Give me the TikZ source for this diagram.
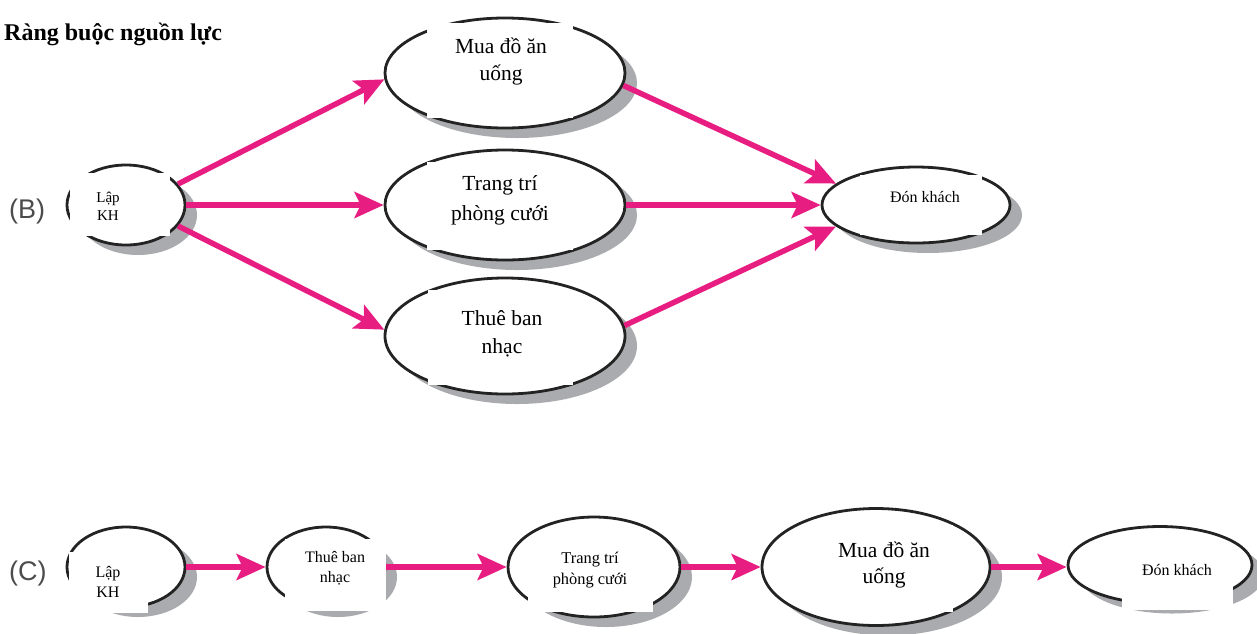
\documentclass[tikz,border=0pt]{standalone}
\usepackage{fontspec}
\setmainfont{Liberation Serif}
\setsansfont{Liberation Sans}
\usetikzlibrary{shapes.geometric,arrows.meta,shadows}
\definecolor{arrowpink}{RGB}{231,29,130}
\definecolor{shadowgray}{RGB}{170,171,174}
\definecolor{rim}{RGB}{35,35,35}

\begin{document}
\begin{tikzpicture}[x=1pt,y=-1pt,
  task/.style={ellipse, draw=rim, line width=2.8pt, fill=white, inner sep=0pt,
    drop shadow={shadow xshift=12pt, shadow yshift=-10pt, fill=shadowgray, opacity=1}},
  patch/.style={rectangle, fill=white, draw=none, inner sep=0pt},
  label/.style={align=center, inner sep=0pt},
  flow/.style={draw=arrowpink, line width=5.5pt,
    -{Stealth[length=29pt, width=26pt, inset=6pt]}},
  panel/.style={font=\sffamily\fontsize{27}{27}\selectfont, text=black!70, anchor=west, inner sep=0pt}
]
\useasboundingbox (0,0) rectangle (1257,633);

% heading and panel letters
\node[anchor=base west, inner sep=0pt, font=\bfseries\fontsize{24}{24}\selectfont] (title) at (4,40) {Ràng buộc nguồn lực};
\node[panel] (labB) at (9,212) {(B)};
\node[panel] (labC) at (9,573) {(C)};

% ---------- (B): parallel activities ----------
\node[task, minimum width=118pt, minimum height=80pt] (lapB)   at (126,205) {};
\node[task, minimum width=240pt, minimum height=110pt] (muaB)  at (505,73)  {};
\node[task, minimum width=240pt, minimum height=110pt] (trangB) at (505,205) {};
\node[task, minimum width=240pt, minimum height=116pt] (thueB) at (505,336) {};
\node[task, minimum width=188pt, minimum height=76pt]  (donB)  at (916,205) {};

% white text frames over the ellipses
\node[patch, minimum width=100pt, minimum height=63pt] (lapBp)   at (120,204.5) {};
\node[patch, minimum width=146pt, minimum height=95pt] (muaBp)   at (500,70.5)  {};
\node[patch, minimum width=146pt, minimum height=88pt] (trangBp) at (500,206)   {};
\node[patch, minimum width=145pt, minimum height=95pt] (thueBp)  at (500.5,337.5) {};
\node[patch, minimum width=122pt, minimum height=60pt] (donBp)   at (921,205)   {};

\node[label, font=\fontsize{15}{18}\selectfont]   (lapBt)   at (108,206) {Lập\\KH};
\node[label, font=\fontsize{21.5}{27}\selectfont] (muaBt)   at (501,62)  {Mua đồ ăn\\uống};
\node[label, font=\fontsize{21.5}{30}\selectfont] (trangBt) at (500,200) {Trang trí\\phòng cưới};
\node[label, font=\fontsize{21.5}{28}\selectfont] (thueBt)  at (502,334) {Thuê ban\\nhạc};
\node[label, font=\fontsize{16}{19}\selectfont]   (donBt)   at (925,197) {Đón khách};

\draw[flow] (lapB.22)   -- (muaB.183);
\draw[flow] (lapB.east) -- (trangB.west);
\draw[flow] (lapB.-22)  -- (thueB.177);
\draw[flow] (muaB.-6)   -- (donB.165);
\draw[flow] (trangB.east) -- (donB.west);
\draw[flow] (thueB.5)   -- (donB.195);

% ---------- (C): one activity after another ----------
\node[task, minimum width=118pt, minimum height=80pt]  (lapC)   at (126,567) {};
\node[task, minimum width=118pt, minimum height=80pt]  (thueC)  at (326,567) {};
\node[task, minimum width=172pt, minimum height=100pt] (trangC) at (594,567) {};
\node[task, minimum width=228pt, minimum height=117pt] (muaC)   at (876,567) {};
\node[task, minimum width=184pt, minimum height=77pt]  (donC)   at (1160,565) {};

\node[patch, minimum width=79pt,  minimum height=61pt] (lapCp)   at (108.5,582.5) {};
\node[patch, minimum width=101pt, minimum height=72pt] (thueCp)  at (335.5,575)   {};
\node[patch, minimum width=125pt, minimum height=67pt] (trangCp) at (590.5,578.5) {};
\node[patch, minimum width=123pt, minimum height=87pt] (muaCp)   at (891.5,568.5) {};
\node[patch, minimum width=111pt, minimum height=65pt] (donCp)   at (1177.5,577.5) {};

\node[label, font=\fontsize{16}{20}\selectfont]   (lapCt)   at (108,582)  {Lập\\KH};
\node[label, font=\fontsize{16}{20}\selectfont]   (thueCt)  at (335,568)  {Thuê ban\\nhạc};
\node[label, font=\fontsize{16.4}{21}\selectfont] (trangCt) at (590,570)  {Trang trí\\phòng cưới};
\node[label, font=\fontsize{21.5}{26}\selectfont] (muaCt)   at (884,565)  {Mua đồ ăn\\uống};
\node[label, font=\fontsize{16}{19}\selectfont]   (donCt)   at (1177,570) {Đón khách};

\draw[flow] (lapC.east)   -- (thueC.west);
\draw[flow] (thueC.east)  -- (trangC.west);
\draw[flow] (trangC.east) -- (muaC.west);
\draw[flow] (muaC.east)   -- (donC.west |- muaC.east);
\end{tikzpicture}
\end{document}
